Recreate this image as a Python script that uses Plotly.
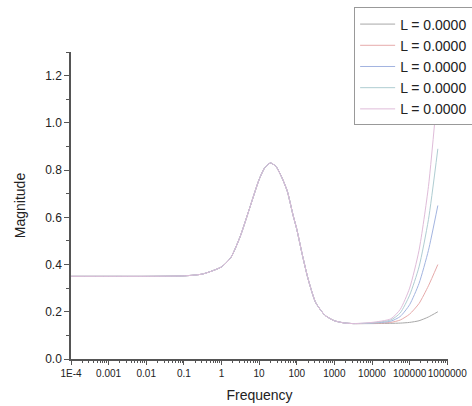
import plotly.graph_objects as go

# Shared low/mid-frequency response (log10 of frequency, magnitude)
base_logf = [-4.0, -3.0, -2.0, -1.0, -0.5, 0.0, 0.25, 0.5, 0.75, 1.0, 1.15, 1.3,
             1.45, 1.6, 1.75, 1.9, 2.0, 2.15, 2.3, 2.5, 2.75, 3.0, 3.25, 3.5, 4.0, 4.5]
base_mag = [0.35, 0.35, 0.35, 0.352, 0.36, 0.39, 0.43, 0.52, 0.64, 0.76, 0.81, 0.83,
            0.815, 0.77, 0.71, 0.61, 0.55, 0.44, 0.34, 0.24, 0.185, 0.162, 0.153, 0.150, 0.150]

# High-frequency tails for each inductance value
tail_logf = [4.75, 5.0, 5.25, 5.5, 5.75, 6.0]
tail_start = [0.150, 0.151, 0.152, 0.153, 0.155]
tail_mags = [
    [0.151, 0.152, 0.155, 0.162, 0.178, 0.20],
    [0.155, 0.165, 0.19, 0.235, 0.31, 0.40],
    [0.160, 0.18, 0.23, 0.32, 0.46, 0.65],
    [0.165, 0.195, 0.27, 0.39, 0.59, 0.89],
    [0.170, 0.21, 0.30, 0.46, 0.73, 1.15],
]

names = ["L = 0.0000"] * 5
colors = ["#a8a8a8", "#e6aaaa", "#a2b4e0", "#afcdd2", "#dfbcd9"]

x_ticks = [-4, -3, -2, -1, 0, 1, 2, 3, 4, 5, 6]
x_ticktext = ["1E-4", "0.001", "0.01", "0.1", "1", "10", "100", "1000",
              "10000", "100000", "1000000"]

fig = go.Figure()
for name, color, tail, t0 in zip(names, colors, tail_mags, tail_start):
    xs = [10 ** v for v in base_logf] + [10 ** v for v in tail_logf]
    ys = base_mag[:-1] + [t0] + tail
    fig.add_trace(go.Scatter(x=xs, y=ys, mode="lines", name=name,
                             line=dict(color=color, width=1, shape="spline", smoothing=0.6)))

axis_color = "#555555"
fig.update_layout(
    width=472, height=406,
    margin=dict(l=71, r=24, t=52, b=47, autoexpand=False),
    paper_bgcolor="white", plot_bgcolor="white",
    font=dict(family="Liberation Sans, Arial, sans-serif", color="#222222"),
    showlegend=True,
    legend=dict(x=0.751, y=1.145, xanchor="left", yanchor="top",
                bgcolor="white", bordercolor="#999999", borderwidth=1,
                font=dict(size=14, color="#222222"), itemwidth=35,
                tracegroupgap=0),
    xaxis=dict(type="log", range=[-4, 6.02], automargin=False, tickangle=0,
               tickvals=[10 ** v for v in x_ticks], ticktext=x_ticktext,
               tickfont=dict(size=10), ticks="outside", ticklen=4, tickcolor=axis_color,
               minor=dict(ticks="outside", ticklen=2.5, dtick="D1", tickcolor=axis_color),
               showline=True, linecolor=axis_color, linewidth=1.5,
               showgrid=False, zeroline=False,
               title=dict(text="Frequency", font=dict(size=14), standoff=12)),
    yaxis=dict(range=[0, 1.3], dtick=0.2, tickformat=".1f", automargin=False,
               tickfont=dict(size=12), ticks="outside", ticklen=5, tickcolor=axis_color,
               minor=dict(ticks="outside", ticklen=3, dtick=0.1, tickcolor=axis_color),
               showline=True, linecolor=axis_color, linewidth=1.5,
               showgrid=False, zeroline=False,
               title=dict(text="Magnitude", font=dict(size=14), standoff=16)),
)

fig.write_html("out.html")
